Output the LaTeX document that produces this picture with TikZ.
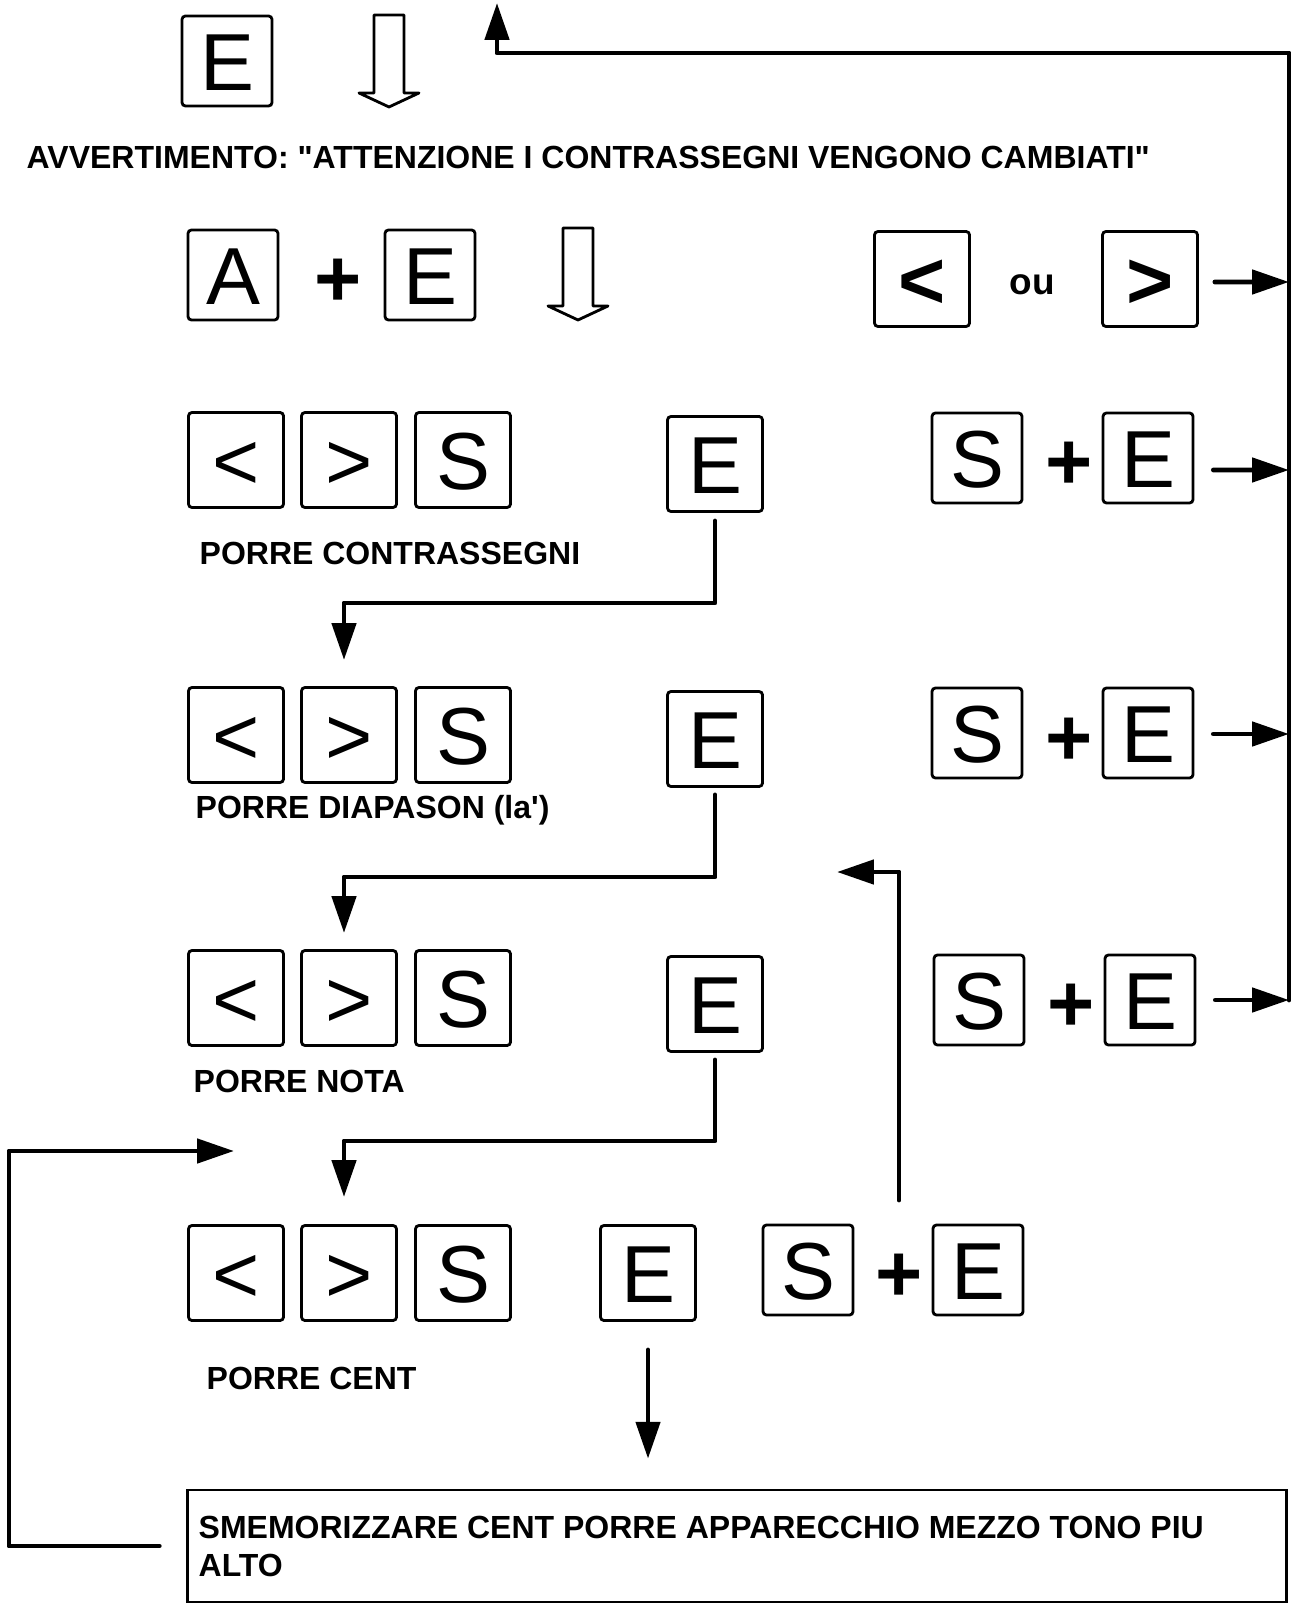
\documentclass[tikz,border=0pt]{standalone}
\usepackage{fontspec}
\newfontfamily\labfont{Liberation Sans}
\usetikzlibrary{arrows.meta}

\tikzset{
  keybox/.style={draw, line width=0.8pt, rounded corners=1pt, inner sep=0pt,
    minimum width=0.95cm, minimum height=0.95cm, text height=16.5pt, text depth=0pt,
    font=\labfont\fontsize{23}{23}\selectfont},
  smallkey/.style={keybox, minimum width=0.9cm, minimum height=0.9cm},
  boldkey/.style={keybox, font=\labfont\bfseries\fontsize{23}{23}\selectfont},
  plus/.style={inner sep=0pt, font=\labfont\bfseries\fontsize{23}{23}\selectfont},
  lab/.style={anchor=west, inner sep=0pt, font=\labfont\bfseries\fontsize{9.1}{10.8}\selectfont},
  msgbox/.style={draw, line width=0.8pt, minimum width=10.98cm, minimum height=1.12cm,
    inner xsep=0.11cm, text width=10.76cm, align=flush left,
    font=\labfont\bfseries\fontsize{9.1}{10.8}\selectfont},
  conn/.style={line width=1.4pt, line join=round, line cap=round},
  arr/.style={conn, -{Triangle[length=10.5pt,width=6.8pt]}},
  hollow/.style={draw, line width=0.8pt, line join=round},
}

\begin{document}
\begin{tikzpicture}[x=0.01cm, y=-0.01cm]
  \useasboundingbox (0,0) rectangle (1299,1604);

  % start
  \node[smallkey] (e0) at (227,61) {E};
  \draw[hollow] (374,15) -- (404,15) -- (404,93) -- (419,93) -- (389,107)
    -- (359,93) -- (374,93) -- cycle;
  \node[lab] (warn) at (26,157) {AVVERTIMENTO: "ATTENZIONE I CONTRASSEGNI VENGONO CAMBIATI"};

  \node[smallkey] (a1) at (233,275) {A};
  \node[plus] (p1) at (338,283) {+};
  \node[smallkey] (e1) at (430,275) {E};
  \draw[hollow] (563,228) -- (593,228) -- (593,306) -- (608,306) -- (578,320)
    -- (548,306) -- (563,306) -- cycle;

  % right column
  \node[boldkey] (lt) at (922,279) {<};
  \node[font=\labfont\bfseries\fontsize{10.5}{10.5}\selectfont] (ou) at (1032,285) {ou};
  \node[boldkey] (gt) at (1150,279) {>};

  \node[smallkey] (sr2) at (977,458) {S};
  \node[plus] (pr2) at (1069,466) {+};
  \node[smallkey] (er2) at (1148,458) {E};

  \node[smallkey] (sr3) at (977,733) {S};
  \node[plus] (pr3) at (1069,742) {+};
  \node[smallkey] (er3) at (1148,733) {E};

  \node[smallkey] (sr4) at (979,1000) {S};
  \node[plus] (pr4) at (1071,1008) {+};
  \node[smallkey] (er4) at (1150,1000) {E};

  \coordinate (rb) at (1289,1000);
  \coordinate (rc) at (497,53);
  \coordinate (rt) at (497,3);
  \draw[arr] (rb) |- (rc) -- (rt);
  \draw[arr] ([shift={(16,3)}]gt.east) -- ([yshift=-0.03cm]gt.east -| rb);
  \draw[arr] ([shift={(19,12)}]er2.east) -- ([yshift=-0.12cm]er2.east -| rb);
  \draw[arr] ([shift={(19,1)}]er3.east) -- ([yshift=-0.01cm]er3.east -| rb);
  \draw[arr] ([xshift=0.19cm]er4.east) -- (er4.east -| rb);

  % left column
  \node[keybox] (l2) at (236,460) {<};
  \node[keybox] (g2) at (349,460) {>};
  \node[keybox] (s2) at (463,460) {S};
  \node[keybox] (e2) at (715,464) {E};
  \node[lab] (t2) at (199,553) {PORRE CONTRASSEGNI};

  \node[keybox] (l3) at (236,735) {<};
  \node[keybox] (g3) at (349,735) {>};
  \node[keybox] (s3) at (463,735) {S};
  \node[keybox] (e3) at (715,739) {E};
  \node[lab] (t3) at (195,810) {PORRE DIAPASON (la\textquotesingle)};

  \node[keybox] (l4) at (236,998) {<};
  \node[keybox] (g4) at (349,998) {>};
  \node[keybox] (s4) at (463,998) {S};
  \node[keybox] (e4) at (715,1004) {E};
  \node[lab] (t4) at (193,1081) {PORRE NOTA};

  \node[keybox] (l5) at (236,1273) {<};
  \node[keybox] (g5) at (349,1273) {>};
  \node[keybox] (s5) at (463,1273) {S};
  \node[keybox] (e5) at (648,1273) {E};
  \node[smallkey] (sr5) at (808,1270) {S};
  \node[plus] (pr5) at (899,1278) {+};
  \node[smallkey] (er5) at (978,1270) {E};
  \node[lab] (t5) at (206,1378) {PORRE CENT};

  \coordinate (d3) at (344,660);
  \coordinate (d4) at (344,933);
  \coordinate (d5) at (344,1197);
  \draw[arr, shorten <=2.3pt] (e2.south) -- (e2.south |- 0,603) -| (d3);
  \draw[arr, shorten <=2pt] (e3.south) -- (e3.south |- 0,877) -| (d4);
  \draw[arr, shorten <=2pt] (e4.south) -- (e4.south |- 0,1141) -| (d5);

  \coordinate (b0) at (899,1200);
  \coordinate (b1) at (837,872);
  \draw[arr] (b0) |- (b1);

  % message
  \node[msgbox] (msg) at (737,1546) {SMEMORIZZARE CENT PORRE APPARECCHIO MEZZO TONO PIU\\ALTO};
  \draw[arr, shorten <=8pt, shorten >=8.5pt] (e5.south) -- (e5.south |- msg.north);

  \coordinate (m1) at (234,1151);
  \draw[arr] ([xshift=-0.27cm]msg.west) -- (9,1546) |- (m1);
\end{tikzpicture}
\end{document}
